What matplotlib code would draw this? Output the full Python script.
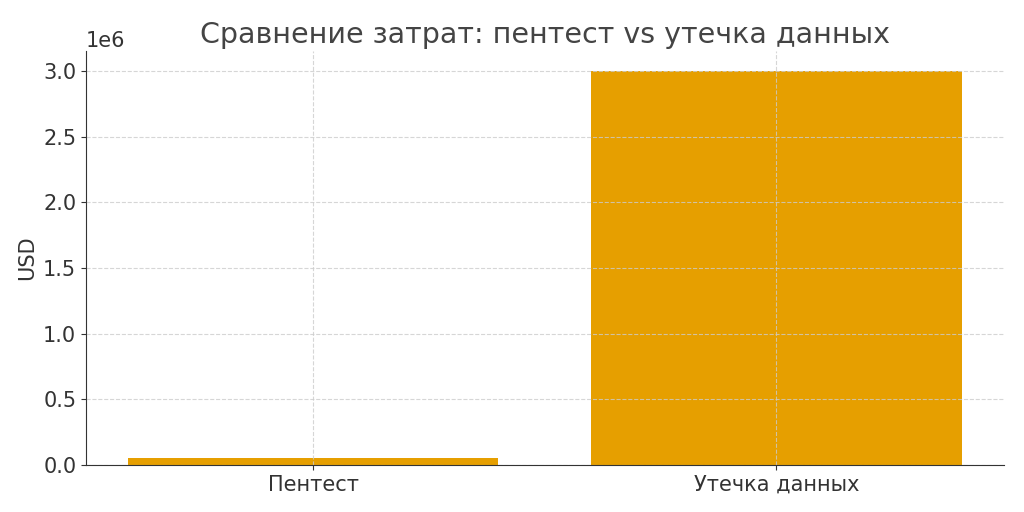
import matplotlib.pyplot as plt

categories = ["Пентест", "Утечка данных"]
costs = [50000, 3000000]

plt.rcParams["font.family"] = ["DejaVu Sans"]
plt.rcParams["text.color"] = "#333333"
plt.rcParams["axes.labelcolor"] = "#333333"
plt.rcParams["xtick.color"] = "#333333"
plt.rcParams["ytick.color"] = "#333333"

fig, ax = plt.subplots(figsize=(10.24, 5.12), dpi=100)
ax.bar(categories, costs, color="#E69F00", width=0.8)
ax.set_title("Сравнение затрат: пентест vs утечка данных", fontsize=20.5, color="#444444")
ax.set_ylabel("USD", fontsize=15)
ax.tick_params(labelsize=15)
ax.yaxis.get_offset_text().set_fontsize(15)
ax.grid(True, linestyle="--", color="#cccccc", linewidth=0.8, alpha=0.8)
ax.spines["top"].set_visible(False)
ax.spines["right"].set_visible(False)
ax.spines["left"].set_color("#333333")
ax.spines["bottom"].set_color("#333333")
plt.subplots_adjust(left=0.084, right=0.98, top=0.9, bottom=0.092)
plt.savefig("out.png", dpi=100)
